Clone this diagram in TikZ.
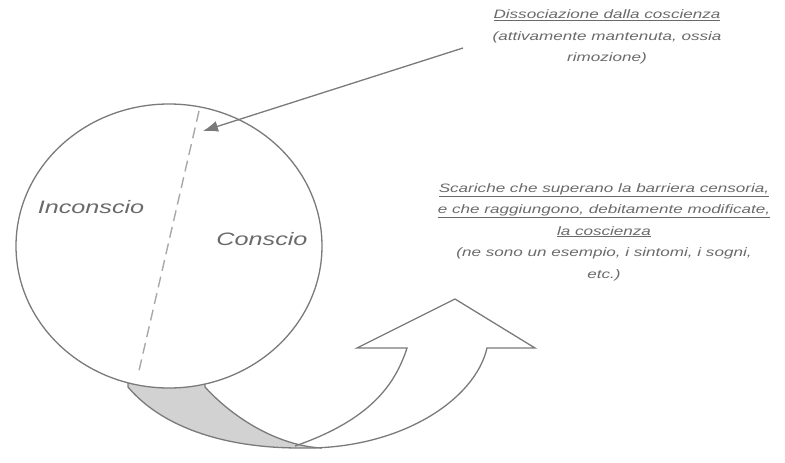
\documentclass[tikz,border=0pt]{standalone}
\usepackage{fontspec}
\usepackage{tikz}
\usetikzlibrary{arrows.meta,shapes.geometric}
\newfontfamily\handfont{Liberation Sans}[FakeStretch=1.4]
\definecolor{inkgray}{HTML}{7A7A7A}
\definecolor{textgray}{HTML}{6A6A6A}
\definecolor{bandgray}{HTML}{D2D2D2}
\definecolor{dashgray}{HTML}{A8A8A8}

\begin{document}
\begin{tikzpicture}[x=1pt,y=-1pt,
    outline/.style={draw=inkgray,line width=1.3pt},
    note/.style={text=textgray,align=center,inner sep=0pt,
        font=\handfont\itshape\fontsize{12.2}{21.5}\selectfont},
    region/.style={text=textgray,inner sep=0pt,
        font=\handfont\itshape\fontsize{18}{20}\selectfont}]
\useasboundingbox (0,0) rectangle (785,463);
\fill[bandgray] (128,370) -- (128,387) .. controls (160,425) and (220,448) .. (300,448)
    -- (322,448) .. controls (280,446) and (235,420) .. (205,387) -- (205,370) -- cycle;
\draw[outline] (128,375) -- (128,387) .. controls (160,425) and (220,448) .. (300,448);
\draw[outline] (205,375) -- (205,387) .. controls (235,420) and (280,446) .. (322,448);
\draw[outline] (300,448) .. controls (400,450) and (475,400) .. (487,348) -- (535,348)
    -- (455,299) -- (357,348) -- (407,348) .. controls (395,385) and (370,420) .. (295,446);
\node[ellipse,outline,fill=white,minimum width=306pt,minimum height=284pt,inner sep=0pt]
    (psyche) at (169,246) {};
\coordinate (cuttop) at (199,111);
\coordinate (cutbot) at (138,375);
\draw[dashgray,line width=1.4pt,dash pattern=on 11pt off 6pt] (cuttop) -- (cutbot);
\node[region] (uncon) at (91,207) {Inconscio};
\node[region] (con) at (262,239) {Conscio};
\node[note] (dissnote) at (607,37) {\underline{Dissociazione dalla coscienza}\\
    (attivamente mantenuta, ossia\\rimozione)};
\node[note] (dischnote) at (604,232) {\underline{Scariche che superano la barriera censoria,}\\
    \underline{e che raggiungono, debitamente modificate,}\\
    \underline{la coscienza}\\
    (ne sono un esempio, i sintomi, i sogni,\\etc.)};
\coordinate (dissfrom) at (463,48);
\coordinate (dissto) at (203,131);
\draw[inkgray,line width=1.3pt,-{Latex[length=15pt,width=11pt]}] (dissfrom) -- (dissto);
\end{tikzpicture}
\end{document}
